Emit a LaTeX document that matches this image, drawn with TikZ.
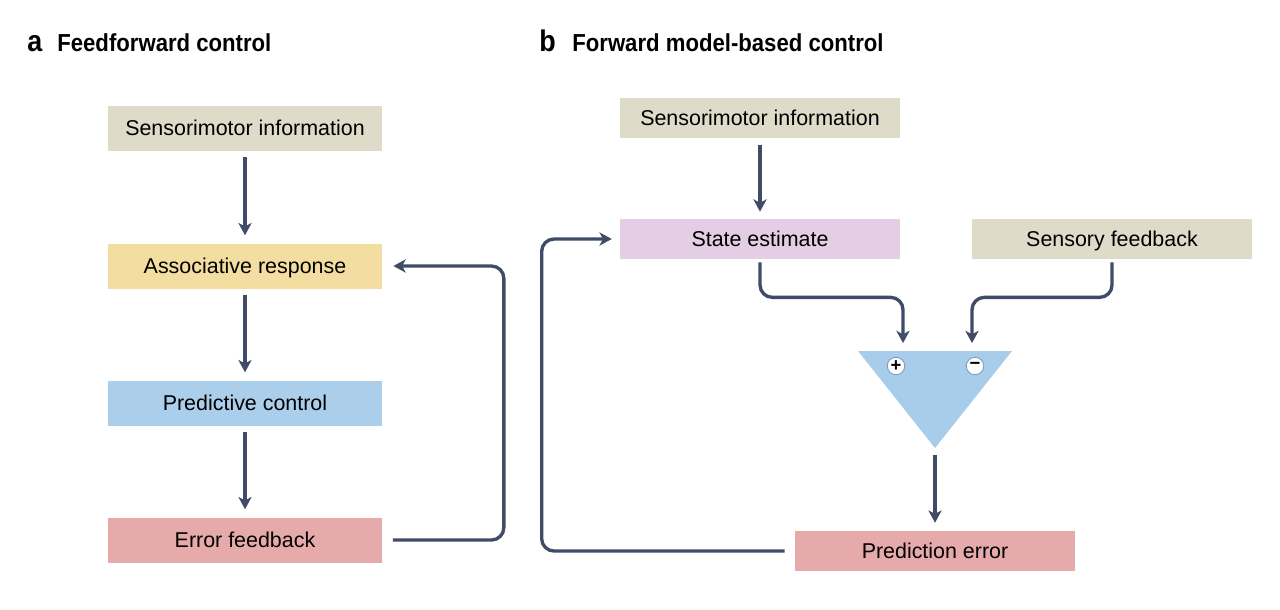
\documentclass[tikz,border=0pt]{standalone}
\usepackage{fontspec}
\setmainfont{Liberation Sans}
\newfontfamily\headfont[FakeStretch=0.9]{Liberation Sans}
\usetikzlibrary{arrows.meta}
\definecolor{sensecol}{HTML}{DEDCC9}
\definecolor{assoccol}{HTML}{F3DDA0}
\definecolor{predcol}{HTML}{ABCEEB}
\definecolor{errcol}{HTML}{E7AAAB}
\definecolor{statecol}{HTML}{E4CEE6}
\definecolor{tricol}{HTML}{A7CDEA}
\definecolor{linkcol}{HTML}{404B68}
\definecolor{signcol}{HTML}{7A9CC0}
\begin{document}
\begin{tikzpicture}[x=0.02cm,y=-0.02cm]
            \tikzstyle{every node}=[font=\fontsize{12.2}{14}\selectfont, inner sep=0pt]
            \tikzstyle{blocka}=[minimum width=5.5cm, minimum height=0.9cm, text height=1.75ex, text depth=0.2ex]
            \tikzstyle{blockb}=[minimum width=5.6cm, minimum height=0.8cm, text height=1.75ex, text depth=0.2ex]
            \tikzstyle{link}=[draw=linkcol, line width=1.9pt, rounded corners=7pt,
                -{Stealth[length=7pt,width=7.5pt,inset=2pt]}]
            \tikzstyle{sign}=[circle, draw=signcol, line width=0.5pt, fill=white,
                minimum size=0.35cm, font=\fontsize{10.5}{10}\selectfont\bfseries]
            \useasboundingbox (0,0) rectangle (1280,609);

            % titles
            \node[anchor=base west, font=\headfont\bfseries\fontsize{17}{17}\selectfont] (taga) at (27,51) {a};
            \node[anchor=base west, font=\headfont\bfseries\fontsize{14}{16}\selectfont] (titlea) at (57,51) {Feedforward control};
            \node[anchor=base west, font=\headfont\bfseries\fontsize{17}{17}\selectfont] (tagb) at (539,51) {b};
            \node[anchor=base west, font=\headfont\bfseries\fontsize{14}{16}\selectfont] (titleb) at (572,51) {Forward model-based control};

            % panel a
            \node[blocka, fill=sensecol] (sensa) at (245,128) {Sensorimotor information};
            \node[blocka, fill=assoccol] (assoc) at (245,266) {Associative response};
            \node[blocka, fill=predcol] (pred) at (245,403) {Predictive control};
            \node[blocka, fill=errcol] (err) at (245,540) {Error feedback};

            \draw[link, shorten <=3.5pt, shorten >=4.5pt] (sensa) -- (assoc);
            \draw[link, shorten <=3.5pt, shorten >=4.5pt] (assoc) -- (pred);
            \draw[link, shorten <=3.5pt, shorten >=4.5pt] (pred) -- (err);
            \draw[link, shorten <=5.7pt, shorten >=6pt] (err.east) -- ++(121,0) |- (assoc.east);

            % panel b
            \node[blockb, fill=sensecol] (sensb) at (760,118) {Sensorimotor information};
            \node[blockb, fill=statecol] (state) at (760,239) {State estimate};
            \node[blockb, fill=sensecol] (sfb) at (1112,239) {Sensory feedback};
            \node[blockb, fill=errcol] (perr) at (935,551) {Prediction error};

            \coordinate (trileft) at (858,351);
            \coordinate (triright) at (1012,351);
            \coordinate (tribot) at (935,448);
            \coordinate (inplus) at (903,351);
            \coordinate (inminus) at (972,351);
            \fill[tricol] (trileft) -- (triright) -- (tribot) -- cycle;
            \node[sign] (plus) at (896,366) {+};
            \node[sign] (minus) at (975,366) {\raisebox{0.3pt}{−}};

            \draw[link, shorten <=3.5pt, shorten >=4pt] (sensb) -- (state);
            \draw[link, shorten <=1.7pt, shorten >=4.5pt] (state.south) -- ++(0,38) -| (inplus);
            \draw[link, shorten <=1.7pt, shorten >=4.5pt] (sfb.south) -- ++(0,38) -| (inminus);
            \draw[link, shorten <=4pt, shorten >=4.5pt] (tribot) -- (perr.north);
            \draw[link, shorten <=5.7pt, shorten >=4.5pt] (perr.west) -- ++(-253,0) |- (state.west);
          \end{tikzpicture}
\end{document}
